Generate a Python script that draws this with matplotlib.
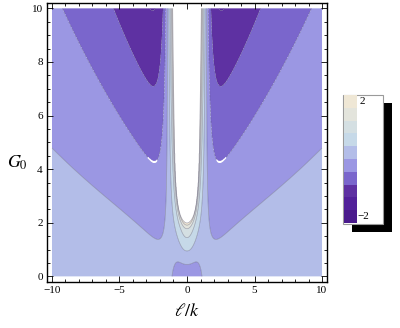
import numpy as np
import matplotlib
matplotlib.use("Agg")
import matplotlib.pyplot as plt
from matplotlib.patches import Rectangle
from matplotlib.ticker import MultipleLocator

plt.rcParams['font.family'] = ['Liberation Serif', 'DejaVu Serif']
plt.rcParams['mathtext.fontset'] = 'stix'

# ---- data / chart values ----
x_range = [-10.0, 10.0]
g_range = [0.0, 10.0]
levels = [-2.5, -2.0, -1.5, -1.0, -0.5, 0.0, 0.5, 1.0, 1.5, 2.0, 2.5]
band_colors = ['#4a1a8c', '#52219a', '#5e31a2', '#7a66cc', '#9b97e3',
               '#b3bde8', '#c6d9e8', '#d4dfe2', '#e3e4dc', '#efe7d5']
x_ticks = [-10, -5, 0, 5, 10]
y_ticks = [0, 2, 4, 6, 8, 10]
legend_labels = ["2", "\u22122"]

side_amp = [0.395, 2.4, 1.3]  # outer offset plateau, scale, shape
bump = [0.45, 1.04]           # depth / half width of the bump at G0 = 0
core = [1.0, 1.05]            # central slope, width
slope = [0.2442, 0.85, 6.6, 1.6]  # side slope amplitude, inner, outer scale, decay power
edge = [1.0, 0.15]            # pile-up near the undefined (white) region
undefined_value = 10.0        # above the top level -> left white
speck = [-0.5, 0.006, 4.45, 2.2, 2.9]  # numerical gaps at the contour tips

# ---- field ----
x = np.linspace(x_range[0], x_range[1], 1001)
g = np.linspace(g_range[0], g_range[1], 1001)
X, G = np.meshgrid(x, g)
AX = np.abs(X)
with np.errstate(divide='ignore'):
    inv = 4.0 / G**2
r = X**2 - 1.0 + inv
a = (side_amp[0] * (1 - np.exp(-(AX / side_amp[1])**side_amp[2]))
     - bump[0] * np.exp(-(AX / bump[1])**4))
u = X**2
b = slope[0] * u / (u + slope[1]**2) / (1 + (AX / slope[2])**slope[3])
f = core[0] * np.exp(-(X / core[1])**2) - b
with np.errstate(over='ignore', invalid='ignore'):
    T = edge[0] * np.exp(-np.clip(r, 0, None) / edge[1])
Z = a + G * f + T
Z[r < 0] = undefined_value
gap = ((np.abs(Z - speck[0]) < speck[1]) & (G < speck[2])
       & (AX > speck[3]) & (AX < speck[4]))
Z[gap] = np.nan

# ---- figure ----
fig = plt.figure(figsize=(4.0, 3.28), dpi=100)
ax = fig.add_axes([47/400, 1-282/328, 280/400, 279/328])
ax.contourf(X, G, Z, levels=levels, colors=band_colors, antialiased=True)
ax.contour(X, G, Z, levels=levels, colors='#4d4d6a', linewidths=0.5, alpha=0.45)

ax.set_xlim(-10.37, 10.37)
ax.set_ylim(-0.21, 10.2)
ax.set_xticks(x_ticks)
ax.set_yticks(y_ticks)
ax.xaxis.set_minor_locator(MultipleLocator(1))
ax.yaxis.set_minor_locator(MultipleLocator(0.5))
ax.tick_params(which='both', direction='in', top=True, right=True,
               labelsize=8, width=0.6, pad=3)
ax.tick_params(which='major', length=4)
ax.tick_params(which='minor', length=2)
for s in ax.spines.values():
    s.set_linewidth(1.0)

fig.text(187/400, 1-312/328, r'$\ell/k$', ha='center', va='center', fontsize=13)
fig.text(17/400, 1-163/328, r'$G_0$', ha='center', va='center', fontsize=13)

# ---- legend ----
tf = fig.transFigure
fig.add_artist(Rectangle((352/400, 1-232/328), 40/400, 129/328,
                         transform=tf, facecolor='black', edgecolor='none'))
fig.add_artist(Rectangle((343/400, 1-224/328), 40/400, 129/328,
                         transform=tf, facecolor='white', edgecolor='#9a9a9a', lw=0.8))
n = len(band_colors)
top, bot = 95.0, 223.0
h = (bot - top) / n
for i, c in enumerate(band_colors):
    y0 = bot - (i + 1) * h
    fig.add_artist(Rectangle((344/400, 1-(y0+h)/328), 13/400, h/328,
                             transform=tf, facecolor=c, edgecolor='none'))
fig.text(360/400, 1-(top + h/2)/328, legend_labels[0], ha='left', va='center', fontsize=8)
fig.text(357.5/400, 1-(bot - h/2)/328, legend_labels[1], ha='left', va='center', fontsize=8)

fig.savefig('out.png', dpi=100)
